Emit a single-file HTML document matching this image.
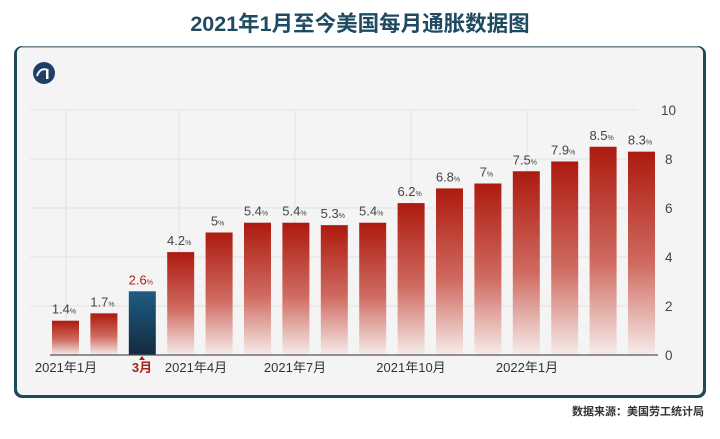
<!DOCTYPE html>
<html><head><meta charset="utf-8"><style>
body{margin:0;background:#fff;width:720px;height:434px;overflow:hidden}
svg text{font-family:"Liberation Sans","Noto Sans CJK SC",sans-serif}
</style></head><body>
<svg width="720" height="434" viewBox="0 0 720 434" xmlns="http://www.w3.org/2000/svg">
<defs>
<linearGradient id="r" x1="0" y1="0" x2="0" y2="1"><stop offset="0" stop-color="#ad1a0f"/><stop offset="0.55" stop-color="#cf6a60"/><stop offset="1" stop-color="#f6ecea"/></linearGradient>
<linearGradient id="b" x1="0" y1="0" x2="0" y2="1"><stop offset="0" stop-color="#1e5c82"/><stop offset="1" stop-color="#142a40"/></linearGradient>
</defs>
<text x="360" y="31" text-anchor="middle" font-size="21.5" font-weight="bold" fill="#1f4b62">2021年1月至今美国每月通胀数据图</text>
<rect x="14" y="46" width="692" height="352" rx="8" fill="#1d4a5e"/>
<rect x="17" y="47" width="686" height="348" rx="6" fill="#f4f4f4"/>
<line x1="22" y1="47" x2="698" y2="47" stroke="#9aa0a4" stroke-width="1.5"/>
<circle cx="44" cy="73" r="11" fill="#1f3f66"/>
<path d="M37 76 q3-9 11-6" stroke="#fff" stroke-width="2" fill="none"/>
<rect x="46" y="69" width="2.5" height="10" fill="#fff"/>
<g stroke="#e2e2e2" stroke-width="1">
<line x1="30" y1="110" x2="638" y2="110"/><line x1="30" y1="159" x2="638" y2="159"/><line x1="30" y1="208" x2="638" y2="208"/><line x1="30" y1="257" x2="638" y2="257"/><line x1="30" y1="306" x2="638" y2="306"/>
<line x1="66" y1="110" x2="66" y2="355"/><line x1="179" y1="110" x2="179" y2="355"/><line x1="295" y1="110" x2="295" y2="355"/><line x1="411" y1="110" x2="411" y2="355"/><line x1="527" y1="110" x2="527" y2="355"/>
</g>
<g font-size="13.5" fill="#444">
<text x="661" y="115">10</text><text x="665" y="164">8</text><text x="665" y="213">6</text><text x="665" y="262">4</text><text x="665" y="311">2</text><text x="665" y="360">0</text>
</g>
<g fill="url(#r)">
<rect x="52" y="320.7" width="27" height="34.3"/>
<rect x="90.4" y="313.35" width="27" height="41.65"/>
<rect x="128.8" y="291.3" width="27" height="63.7" fill="url(#b)"/>
<rect x="167.2" y="252.1" width="27" height="102.9"/>
<rect x="205.6" y="232.5" width="27" height="122.5"/>
<rect x="244" y="222.7" width="27" height="132.3"/>
<rect x="282.4" y="222.7" width="27" height="132.3"/>
<rect x="320.8" y="225.15" width="27" height="129.85"/>
<rect x="359.2" y="222.7" width="27" height="132.3"/>
<rect x="397.6" y="203.1" width="27" height="151.9"/>
<rect x="436" y="188.4" width="27" height="166.6"/>
<rect x="474.4" y="183.5" width="27" height="171.5"/>
<rect x="512.8" y="171.25" width="27" height="183.75"/>
<rect x="551.2" y="161.45" width="27" height="193.55"/>
<rect x="589.6" y="146.75" width="27" height="208.25"/>
<rect x="628" y="151.65" width="27" height="203.35"/>
</g>
<g font-size="13" fill="#444" text-anchor="middle">
<text x="64" y="313.7">1.4<tspan font-size="7">%</tspan></text>
<text x="102.4" y="306.35">1.7<tspan font-size="7">%</tspan></text>
<text x="140.8" y="284.3" fill="#a82216">2.6<tspan font-size="7">%</tspan></text>
<text x="179.2" y="245.1">4.2<tspan font-size="7">%</tspan></text>
<text x="217.6" y="225.5">5<tspan font-size="7">%</tspan></text>
<text x="256" y="215.7">5.4<tspan font-size="7">%</tspan></text>
<text x="294.4" y="215.7">5.4<tspan font-size="7">%</tspan></text>
<text x="332.8" y="218.15">5.3<tspan font-size="7">%</tspan></text>
<text x="371.2" y="215.7">5.4<tspan font-size="7">%</tspan></text>
<text x="409.6" y="196.1">6.2<tspan font-size="7">%</tspan></text>
<text x="448" y="181.4">6.8<tspan font-size="7">%</tspan></text>
<text x="486.4" y="176.5">7<tspan font-size="7">%</tspan></text>
<text x="524.8" y="164.25">7.5<tspan font-size="7">%</tspan></text>
<text x="563.2" y="154.45">7.9<tspan font-size="7">%</tspan></text>
<text x="601.6" y="139.75">8.5<tspan font-size="7">%</tspan></text>
<text x="640" y="144.65">8.3<tspan font-size="7">%</tspan></text>
</g>
<line x1="50" y1="355" x2="658" y2="355" stroke="#555" stroke-width="1.2"/>
<g font-size="13" fill="#333" text-anchor="middle">
<text x="66" y="372">2021年1月</text><text x="142" y="372" fill="#a82216" font-weight="bold">3月</text><text x="196" y="372">2021年4月</text><text x="295" y="372">2021年7月</text><text x="411" y="372">2021年10月</text><text x="527" y="372">2022年1月</text>
</g>
<path d="M139 360 l3-4 l3 4z" fill="#a82216"/>
<text x="704" y="415" text-anchor="end" font-size="11" font-weight="bold" fill="#333">数据来源：美国劳工统计局</text>
</svg>
</body></html>
